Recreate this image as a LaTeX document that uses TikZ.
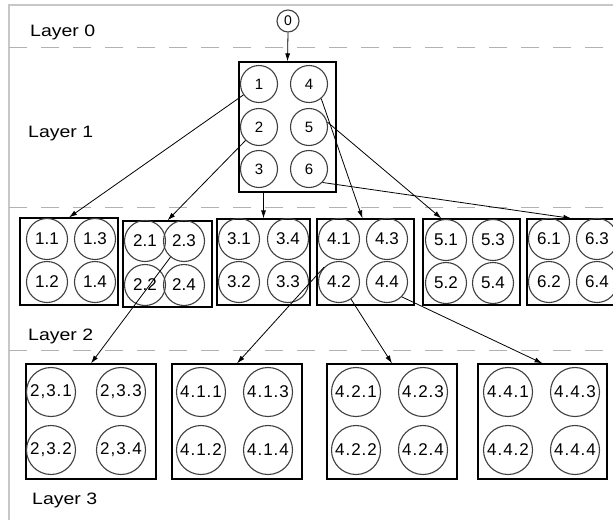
\documentclass[tikz,border=0pt]{standalone}
\usepackage{fontspec}
\setmainfont{Liberation Sans}
\newfontfamily\layfont[FakeStretch=1.18]{Liberation Sans}
\newfontfamily\wfont[LetterSpace=6]{Liberation Sans}
\usetikzlibrary{arrows.meta,calc}
\begin{document}
\begin{tikzpicture}[x=1pt,y=-1pt,
  frame/.style={draw=black!22, line width=1.2pt},
  sep/.style={draw=black!30, line width=0.9pt, dash pattern=on 18pt off 14pt},
  box/.style={draw=black, line width=1.2pt, inner sep=0pt, rectangle},
  cc/.style={circle, draw=black!75, line width=1.1pt, inner sep=0pt},
  c0/.style={cc, minimum size=22pt, font=\fontsize{14}{16}\selectfont},
  c1/.style={cc, minimum size=37pt, font=\fontsize{15}{17}\selectfont},
  c2/.style={cc, minimum size=41pt, font=\fontsize{17}{19}\selectfont},
  c3/.style={cc, minimum size=49pt, font=\wfont\fontsize{17}{19}\selectfont},
  lay/.style={anchor=west, inner sep=0pt, font=\layfont\fontsize{16.5}{18}\selectfont},
  arr/.style={-{Latex[length=8pt,width=5pt]}, line width=0.8pt}
]
\fill[white] (0,0) rectangle (613,520);
\useasboundingbox (0,0) rectangle (613,520);
% frame and layer separators
\draw[frame] (613,5) -- (9,5) -- (9,520);
\draw[sep] (9,47) -- (613,47);
\draw[sep] (9,207) -- (613,207);
\draw[sep] (9,350) -- (613,350);
% layer labels
\node[lay] (lay0) at (30,32) {Layer 0};
\node[lay] (lay1) at (28,134) {Layer 1};
\node[lay] (lay2) at (28,336) {Layer 2};
\node[lay] (lay3) at (32,500) {Layer 3};
% layer 0
\node[c0] (n0) at (288,21) {0};
% layer 1
\node[box, minimum width=97pt, minimum height=130pt] (L1) at (287.5,127) {};
\node[c1] (c1) at (259,84) {1};
\node[c1] (c4) at (309,84) {4};
\node[c1] (c2) at (259,127) {2};
\node[c1] (c5) at (309,127) {5};
\node[c1] (c3) at (259,169) {3};
\node[c1] (c6) at (309,169) {6};
% layer 2
\node[box, minimum width=98pt, minimum height=87pt] (B1) at (69,261.5) {};
\node[c2] (c11) at (47,239) {1.1};
\node[c2] (c13) at (95,239) {1.3};
\node[c2] (c12) at (47,282) {1.2};
\node[c2] (c14) at (95,282) {1.4};
\node[box, minimum width=89pt, minimum height=86pt] (B2) at (167.5,264) {};
\node[c2] (c21) at (145,241) {2.1};
\node[c2] (c23) at (184,241) {2.3};
\node[c2] (c22) at (145,285) {2.2};
\node[c2] (c24) at (184,285) {2.4};
\node[box, minimum width=93pt, minimum height=86pt] (B3) at (263.5,262) {};
\node[c2] (c31) at (239,239) {3.1};
\node[c2] (c34) at (288,239) {3.4};
\node[c2] (c32) at (239,282) {3.2};
\node[c2] (c33) at (288,282) {3.3};
\node[box, minimum width=97pt, minimum height=86pt] (B4) at (365.5,262) {};
\node[c2] (c41) at (339,239) {4.1};
\node[c2] (c43) at (387,239) {4.3};
\node[c2] (c42) at (339,282) {4.2};
\node[c2] (c44) at (387,282) {4.4};
\node[box, minimum width=97pt, minimum height=86pt] (B5) at (471.5,262) {};
\node[c2] (c51) at (446,240) {5.1};
\node[c2] (c53) at (493,240) {5.3};
\node[c2] (c52) at (446,283) {5.2};
\node[c2] (c54) at (493,283) {5.4};
\node[box, minimum width=98pt, minimum height=86pt] (B6) at (576,262) {};
\node[c2] (c61) at (549,239) {6.1};
\node[c2] (c63) at (597,239) {6.3};
\node[c2] (c62) at (549,282) {6.2};
\node[c2] (c64) at (597,282) {6.4};
% layer 3
\node[box, minimum width=130pt, minimum height=115pt] (T1) at (91,421.5) {};
\node[c3] (d231) at (51,392) {2,3.1};
\node[c3] (d233) at (121,392) {2,3.3};
\node[c3] (d232) at (51,450) {2,3.2};
\node[c3] (d234) at (121,450) {2,3.4};
\node[box, minimum width=130pt, minimum height=115pt] (T2) at (237,421.5) {};
\node[c3] (d411) at (201,392) {4.1.1};
\node[c3] (d413) at (268,392) {4.1.3};
\node[c3] (d412) at (201,450) {4.1.2};
\node[c3] (d414) at (268,450) {4.1.4};
\node[box, minimum width=130pt, minimum height=115pt] (T3) at (392,421.5) {};
\node[c3] (d421) at (356,392) {4.2.1};
\node[c3] (d423) at (423,392) {4.2.3};
\node[c3] (d422) at (356,450) {4.2.2};
\node[c3] (d424) at (423,450) {4.2.4};
\node[box, minimum width=129pt, minimum height=115pt] (T4) at (542.5,421.5) {};
\node[c3] (d441) at (508,392) {4.4.1};
\node[c3] (d443) at (575,392) {4.4.3};
\node[c3] (d442) at (508,450) {4.4.2};
\node[c3] (d444) at (575,450) {4.4.4};
% connectors
\draw[arr] (n0.south) -- (L1.north);
\draw[arr] (c1.215) -- (B1.north);
\draw[arr] (c2.225) -- (B2.north);
\draw[arr] (L1.south -| B3.north) -- (B3.north);
\draw[arr] (c4.-50) -- ($(B4.north)+(-3,0)$);
\draw[arr] (c5.15) -- ($(B5.north west)+(19,0)$);
\draw[arr] (c6.-45) -- ($(B6.north west)+(45,0)$);
\draw[arr] (c23.230) -- (T1.north);
\draw[arr] (c42.135) -- (T2.north);
\draw[arr] (c42.-55) -- (T3.north);
\draw[arr] (c44.-45) -- (T4.north);
\end{tikzpicture}
\end{document}
